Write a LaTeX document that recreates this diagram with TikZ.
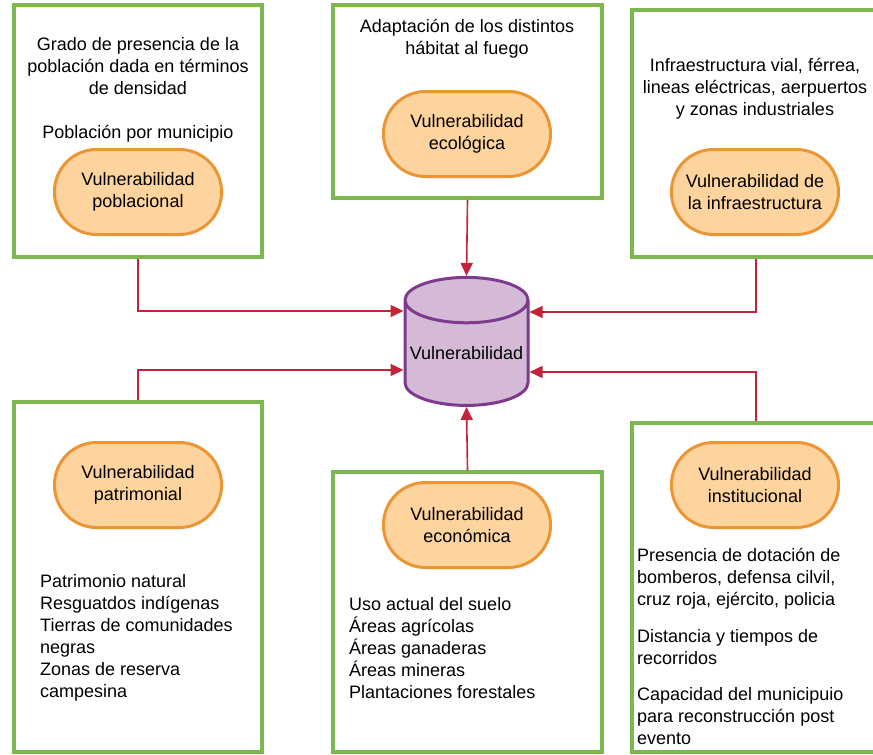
\documentclass[tikz,border=0pt]{standalone}
\usepackage{fontspec}
\setmainfont{Liberation Sans}
\usetikzlibrary{positioning}
\usetikzlibrary{shapes.geometric, arrows.meta}
\definecolor{boxgreen}{HTML}{7DB84F}
\definecolor{pillfill}{HTML}{FDD39E}
\definecolor{pilldraw}{HTML}{EC9535}
\definecolor{cylfill}{HTML}{D4BAD6}
\definecolor{cyldraw}{HTML}{7E3B8E}
\definecolor{arrowred}{HTML}{C3243A}
\tikzstyle{areabox} = [rectangle, draw=boxgreen, line width=3.5pt, inner sep=0pt]
\tikzstyle{pill} = [rectangle, rounded corners=42pt,
minimum width=167pt, minimum height=85pt, align=center,
draw=pilldraw, fill=pillfill, line width=3pt]
\tikzstyle{store} = [cylinder, shape border rotate=90, aspect=0.4,
minimum width=123pt, minimum height=128pt, inner sep=0pt,
draw=cyldraw, fill=cylfill, line width=3pt]
\tikzstyle{note} = [inner sep=0pt, align=center]
\tikzstyle{itemtext} = [inner sep=0pt, align=left, anchor=west]
\tikzstyle{arrow} = [line width=1.6pt, draw=arrowred, -{Triangle[length=13pt,width=12pt]}]
\begin{document}
\begin{tikzpicture}[x=1pt, y=-1pt, font=\fontsize{18}{22}\selectfont]
    \useasboundingbox (0,0) rectangle (873,755);
    \clip (0,0) rectangle (873,755);
    % frames round each kind of vulnerability
    \node[areabox, minimum width=248pt, minimum height=252pt] (boxpob) at (138,131) {};
    \node[areabox, minimum width=269pt, minimum height=193pt] (boxeco) at (467.5,101.5) {};
    \node[areabox, minimum width=248pt, minimum height=247pt] (boxinf) at (756,133.5) {};
    \node[areabox, minimum width=248pt, minimum height=350pt] (boxpat) at (138,577) {};
    \node[areabox, minimum width=269pt, minimum height=280pt] (boxecn) at (467.5,612) {};
    \node[areabox, minimum width=248pt, minimum height=329pt] (boxins) at (756,587.5) {};
    % categories
    \node[pill] (pob) at (138,192) {Vulnerabilidad\\poblacional};
    \node[pill] (eco) at (467,134) {Vulnerabilidad\\ecológica};
    \node[pill] (inf) at (755,192) {Vulnerabilidad de\\la infraestructura};
    \node[pill] (pat) at (138,485) {Vulnerabilidad\\patrimonial};
    \node[pill] (ecn) at (467,525) {Vulnerabilidad\\económica};
    \node[pill] (ins) at (755,485) {Vulnerabilidad\\institucional};
    \node[store] (vul) at (466.5,353.5) {Vulnerabilidad};
    % descriptions
    \node[note] (pobtxt) at (138,90) {Grado de presencia de la\\población dada en términos\\de densidad\\[22pt]Población por municipio};
    \node[note] (ecotxt) at (467,39) {Adaptación de los distintos\\hábitat al fuego};
    \node[note] (inftxt) at (755,89) {Infraestructura vial, férrea,\\lineas eléctricas, aerpuertos\\y zonas industriales};
    \node[itemtext] (pattxt) at (40,638) {Patrimonio natural\\Resguatdos indígenas\\Tierras de comunidades\\negras\\Zonas de reserva\\campesina};
    \node[itemtext] (ecntxt) at (349,648) {Uso actual del suelo\\Áreas agrícolas\\Áreas ganaderas\\Áreas mineras\\Plantaciones forestales};
    \node[itemtext] (instxt) at (637,646) {Presencia de dotación de\\bomberos, defensa cilvil,\\cruz roja, ejército, policia\\[15pt]Distancia y tiempos de\\recorridos\\[14pt]Capacidad del municipuio\\para reconstrucción post\\evento};
    % connectors
    \draw[arrow] (boxpob.south) |- ([yshift=42.5pt]vul.west);
    \draw[arrow] (boxpat.north) |- ([yshift=-16.5pt]vul.west);
    \draw[arrow] (boxeco.south) -- (vul.north);
    \draw[arrow] (boxecn.north) -- (vul.south);
    \draw[arrow] (boxinf.south) |- ([yshift=41.5pt]vul.east);
    \draw[arrow] (boxins.north) |- ([yshift=-18.5pt]vul.east);
\end{tikzpicture}
\end{document}
